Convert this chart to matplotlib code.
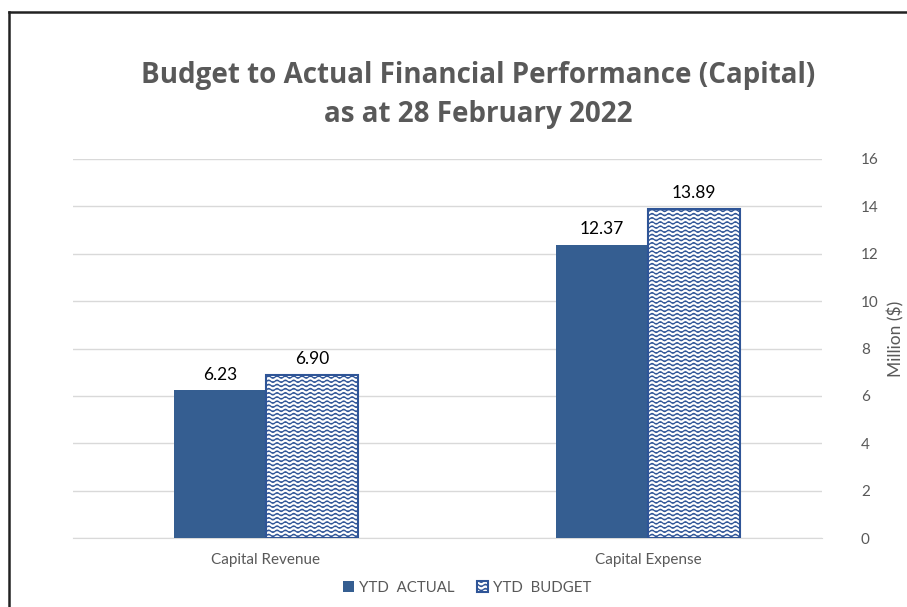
import warnings
import numpy as np
import matplotlib
matplotlib.use("Agg")
import matplotlib.pyplot as plt
from matplotlib.lines import Line2D
from matplotlib.path import Path
import matplotlib.hatch as mhatch

warnings.filterwarnings("ignore")

categories = ["Capital Revenue", "Capital Expense"]
ytd_actual = [6.23, 12.37]
ytd_budget = [6.90, 13.89]
series_names = ["YTD  ACTUAL", "YTD  BUDGET"]
yticks = [0, 2, 4, 6, 8, 10, 12, 14, 16]


class WaveHatch(mhatch.HatchPatternBase):
    pts_per_row = 97

    def __init__(self, hatch, density):
        self.num_rows = int(hatch.count('~') * density)
        self.num_vertices = self.num_rows * self.pts_per_row

    def set_vertices_and_codes(self, vertices, codes):
        n = self.num_rows
        spacing = 1.0 / n
        periods = max(1, n // 2)
        x = np.linspace(0.0, 1.0, self.pts_per_row)
        amp = 0.28 * spacing
        for i in range(n):
            y0 = (i + 0.5) * spacing
            sl = slice(i * self.pts_per_row, (i + 1) * self.pts_per_row)
            vertices[sl, 0] = x
            vertices[sl, 1] = y0 + amp * np.sin(2 * np.pi * periods * x)
            codes[sl] = Path.LINETO
            codes[i * self.pts_per_row] = Path.MOVETO


mhatch._hatch_types.append(WaveHatch)

plt.rcParams['hatch.linewidth'] = 0.9
gray = '#595959'
actual_color = '#355E91'
budget_edge = '#2F5597'

fig = plt.figure(figsize=(9.07, 6.07), dpi=100)
ax = fig.add_axes([73 / 907, 1 - 538 / 607, (822 - 73) / 907, (538 - 159) / 607])

x = np.arange(len(categories))
w = 0.24
b1 = ax.bar(x - w / 2, ytd_actual, w, color=actual_color, zorder=3, label=series_names[0])
b2 = ax.bar(x + w / 2, ytd_budget, w, facecolor='white', edgecolor=budget_edge,
            hatch='~~~~', linewidth=1.5, zorder=3, label=series_names[1])

for rect, v in zip(b1, ytd_actual):
    ax.text(rect.get_x() + rect.get_width() / 2, v + 0.33, f"{v:.2f}",
            ha='center', va='bottom', fontsize=12.5, color='black', family='Lato')
for rect, v in zip(b2, ytd_budget):
    ax.text(rect.get_x() + rect.get_width() / 2, v + 0.33, f"{v:.2f}",
            ha='center', va='bottom', fontsize=12.5, color='black', family='Lato')

ax.set_xlim(-0.505, 1.455)
ax.set_ylim(0, 16)
ax.set_yticks(yticks)
ax.yaxis.tick_right()
ax.yaxis.set_label_position('right')
ax.tick_params(axis='y', length=0, pad=28, labelsize=11, labelcolor=gray)
ax.tick_params(axis='x', length=0, pad=11, labelsize=11, labelcolor=gray)
for lbl in ax.get_yticklabels() + ax.get_xticklabels():
    lbl.set_family('Lato')
ax.set_xticks(x)
ax.set_xticklabels(categories)
ax.grid(axis='y', color='#D9D9D9', linewidth=1, zorder=0)
for s in ['top', 'left', 'right']:
    ax.spines[s].set_visible(False)
ax.spines['bottom'].set_color('#D9D9D9')
ax.set_ylabel("Million ($)", fontsize=12.5, color=gray, family='Lato',
              va='center', rotation=90)
ax.yaxis.set_label_coords((896 - 73) / 749, (538 - 339) / 379)

fig.text(478 / 907, 1 - 95 / 607,
         "Budget to Actual Financial Performance (Capital)\nas at 28 February 2022",
         ha='center', va='center', fontsize=20, fontweight='bold', color=gray,
         family='Open Sans', linespacing=1.45)

leg = fig.legend(handles=[b1, b2], labels=series_names, loc='center',
                 bbox_to_anchor=(467 / 907, 1 - 588 / 607), ncol=2, frameon=False,
                 handlelength=0.75, handleheight=0.75, handletextpad=0.3,
                 columnspacing=1.5, prop={'family': 'Lato', 'size': 10.8})
for t in leg.get_texts():
    t.set_color(gray)

# outer border (left and top)
fig.add_artist(Line2D([9 / 907, 9 / 907], [0, 1 - 12 / 607], transform=fig.transFigure,
                      color='#222222', linewidth=1.8))
fig.add_artist(Line2D([9 / 907, 1], [1 - 12 / 607, 1 - 12 / 607], transform=fig.transFigure,
                      color='#222222', linewidth=1.8))

fig.savefig("out.png", dpi=100)
